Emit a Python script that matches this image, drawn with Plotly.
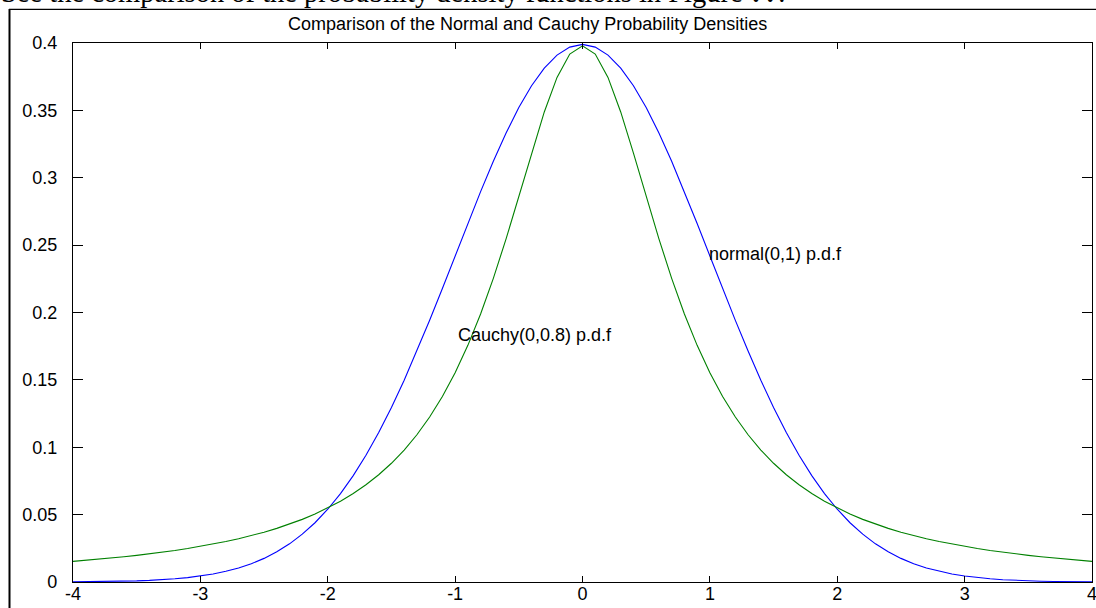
import plotly.graph_objects as go

# sample positions (step 0.1 from -4 to 4)
x_half = [0.0, 0.1, 0.2, 0.3, 0.4, 0.5, 0.6, 0.7, 0.8, 0.9, 1.0,
          1.1, 1.2, 1.3, 1.4, 1.5, 1.6, 1.7, 1.8, 1.9, 2.0,
          2.1, 2.2, 2.3, 2.4, 2.5, 2.6, 2.7, 2.8, 2.9, 3.0,
          3.1, 3.2, 3.3, 3.4, 3.5, 3.6, 3.7, 3.8, 3.9, 4.0]

normal_half = [0.39894, 0.39695, 0.39104, 0.38139, 0.36827, 0.35207, 0.33322, 0.31225, 0.28969, 0.26609, 0.24197,
               0.21785, 0.19419, 0.17137, 0.14973, 0.12952, 0.11092, 0.09405, 0.07895, 0.06562, 0.05399,
               0.04398, 0.03547, 0.02833, 0.02239, 0.01753, 0.01358, 0.01042, 0.00792, 0.00595, 0.00443,
               0.00327, 0.00238, 0.00172, 0.00123, 0.00087, 0.00061, 0.00042, 0.00029, 0.00020, 0.00013]

cauchy_half = [0.39789, 0.39177, 0.37448, 0.34883, 0.31831, 0.28612, 0.25465, 0.22535, 0.19894, 0.17562, 0.15527,
               0.13765, 0.12243, 0.10929, 0.09794, 0.08811, 0.07958, 0.07214, 0.06563, 0.05992, 0.05488,
               0.05043, 0.04647, 0.04294, 0.03979, 0.03696, 0.03441, 0.03211, 0.03003, 0.02814, 0.02642,
               0.02484, 0.02341, 0.02209, 0.02087, 0.01976, 0.01872, 0.01777, 0.01689, 0.01607, 0.01530]

# both densities are symmetric about 0
x_vals = [-v for v in x_half[:0:-1]] + x_half
normal_vals = normal_half[:0:-1] + normal_half
cauchy_vals = cauchy_half[:0:-1] + cauchy_half

x_ticks = [-4, -3, -2, -1, 0, 1, 2, 3, 4]
x_tick_text = ["-4", "-3", "-2", "-1", "0", "1", "2", "3", "4"]
y_ticks = [0, 0.05, 0.1, 0.15, 0.2, 0.25, 0.3, 0.35, 0.4]
y_tick_text = ["0", "0.05", "0.1", "0.15", "0.2", "0.25", "0.3", "0.35", "0.4"]

title_text = "Comparison of the Normal and Cauchy Probability Densities"
normal_label = "normal(0,1) p.d.f"
cauchy_label = "Cauchy(0,0.8) p.d.f"
page_text = "See the comparison of the probability density functions in Figure <b>??</b>."

W, H = 1096, 608
L, R, T, B = 73, 4, 43, 26
PW, PH = W - L - R, H - T - B


def px(xp):
    return (xp - L) / PW


def py(yp):
    return (H - B - yp) / PH


FONT = "Liberation Sans, Arial, sans-serif"

fig = go.Figure()
fig.add_trace(go.Scatter(x=x_vals, y=normal_vals, mode="lines",
                         line=dict(color="#0000ff", width=1.1), name="normal"))
fig.add_trace(go.Scatter(x=x_vals, y=cauchy_vals, mode="lines",
                         line=dict(color="#008000", width=1.1), name="cauchy"))

fig.update_layout(
    width=W, height=H,
    margin=dict(l=L, r=R, t=T, b=B, autoexpand=False),
    paper_bgcolor="white", plot_bgcolor="white",
    showlegend=False,
    font=dict(family=FONT, size=18, color="black"),
    xaxis=dict(range=[-4, 4], tickvals=x_ticks, ticktext=x_tick_text,
               showgrid=False, zeroline=False, showline=True, linecolor="black",
               linewidth=1.3, mirror="ticks", ticks="inside", ticklen=6,
               tickcolor="black", tickwidth=1, ticklabelstandoff=-5,
               ticklabeloverflow="allow", automargin=False,
               tickfont=dict(family=FONT, size=18, color="black")),
    yaxis=dict(range=[0, 0.4], tickvals=y_ticks, ticktext=y_tick_text,
               showgrid=False, zeroline=False, showline=True, linecolor="black",
               linewidth=1.3, mirror="ticks", ticks="inside", ticklen=10,
               tickcolor="black", tickwidth=1, ticklabelstandoff=11,
               ticklabeloverflow="allow", automargin=False,
               tickfont=dict(family=FONT, size=18, color="black")),
)

annotations = [
    dict(text=title_text, xref="paper", yref="paper", x=px(527.5), y=py(24),
         xanchor="center", yanchor="middle", showarrow=False,
         font=dict(family=FONT, size=18, color="black")),
    dict(text=normal_label, x=0.98, y=0.2435, xref="x", yref="y",
         xanchor="left", yanchor="middle", showarrow=False,
         font=dict(family=FONT, size=18, color="black")),
    dict(text=cauchy_label, x=-0.99, y=0.183, xref="x", yref="y",
         xanchor="left", yanchor="middle", showarrow=False,
         font=dict(family=FONT, size=18, color="black")),
    dict(text=page_text, xref="paper", yref="paper", x=px(-1), y=py(9.5),
         xanchor="left", yanchor="bottom", showarrow=False,
         font=dict(family="Liberation Serif, DejaVu Serif, serif", size=28.5, color="black")),
]
fig.update_layout(annotations=annotations)

shapes = [
    dict(type="line", xref="paper", yref="paper", x0=px(9), x1=px(1096), y0=py(9.3), y1=py(9.3),
         line=dict(color="black", width=1.2), layer="above"),
    dict(type="line", xref="paper", yref="paper", x0=px(9.5), x1=px(9.5), y0=py(9), y1=py(608),
         line=dict(color="black", width=2), layer="above"),
]
fig.update_layout(shapes=shapes)

fig.write_html("out.html")
